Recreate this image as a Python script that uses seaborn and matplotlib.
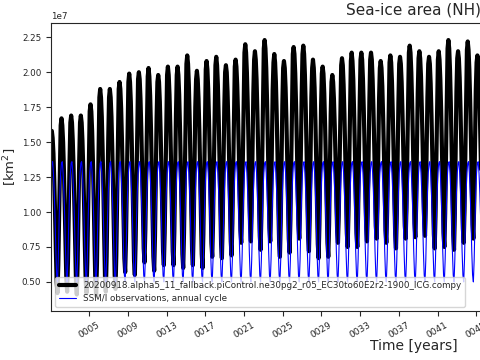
import numpy as np
import pandas as pd
import seaborn as sns
import matplotlib
matplotlib.use("Agg")
import matplotlib.pyplot as plt
from matplotlib.ticker import FuncFormatter

# sea-ice area, units of 1e7 km^2, monthly Jan..Dec, model years 0001-0045
years = list(range(1, 46))
model_area = [
    [1.53, 1.58, 1.53, 1.42, 1.23, 1.00, 0.73, 0.50, 0.42, 0.62, 0.94, 1.29],
    [1.62, 1.67, 1.62, 1.50, 1.30, 1.05, 0.77, 0.52, 0.43, 0.64, 0.99, 1.36],
    [1.64, 1.69, 1.64, 1.51, 1.31, 1.05, 0.76, 0.50, 0.41, 0.63, 0.99, 1.37],
    [1.64, 1.69, 1.64, 1.51, 1.31, 1.06, 0.76, 0.51, 0.42, 0.64, 0.99, 1.37],
    [1.72, 1.77, 1.72, 1.58, 1.36, 1.09, 0.77, 0.50, 0.40, 0.63, 1.02, 1.43],
    [1.82, 1.88, 1.82, 1.68, 1.45, 1.16, 0.82, 0.53, 0.43, 0.68, 1.08, 1.52],
    [1.82, 1.88, 1.82, 1.68, 1.45, 1.17, 0.84, 0.55, 0.45, 0.69, 1.09, 1.52],
    [1.88, 1.93, 1.88, 1.74, 1.52, 1.25, 0.94, 0.67, 0.57, 0.80, 1.18, 1.59],
    [1.93, 1.99, 1.93, 1.79, 1.56, 1.27, 0.94, 0.65, 0.55, 0.80, 1.20, 1.63],
    [1.95, 2.00, 1.95, 1.81, 1.59, 1.32, 1.01, 0.74, 0.64, 0.87, 1.25, 1.66],
    [1.97, 2.03, 1.97, 1.83, 1.60, 1.31, 0.97, 0.68, 0.58, 0.83, 1.23, 1.67],
    [1.93, 1.98, 1.93, 1.79, 1.57, 1.30, 0.99, 0.72, 0.62, 0.85, 1.23, 1.64],
    [1.98, 2.04, 1.98, 1.84, 1.61, 1.33, 1.00, 0.72, 0.62, 0.86, 1.26, 1.69],
    [1.98, 2.04, 1.98, 1.84, 1.61, 1.32, 0.99, 0.70, 0.60, 0.85, 1.25, 1.68],
    [2.06, 2.12, 2.06, 1.91, 1.67, 1.37, 1.03, 0.73, 0.62, 0.88, 1.30, 1.75],
    [1.95, 2.01, 1.95, 1.81, 1.59, 1.31, 0.98, 0.70, 0.60, 0.84, 1.24, 1.66],
    [2.02, 2.08, 2.02, 1.88, 1.66, 1.38, 1.06, 0.78, 0.68, 0.92, 1.31, 1.73],
    [2.05, 2.11, 2.05, 1.91, 1.68, 1.39, 1.06, 0.77, 0.67, 0.92, 1.32, 1.75],
    [2.00, 2.05, 2.00, 1.86, 1.64, 1.37, 1.06, 0.79, 0.69, 0.92, 1.30, 1.71],
    [2.04, 2.09, 2.04, 1.91, 1.70, 1.44, 1.13, 0.87, 0.78, 1.00, 1.37, 1.76],
    [2.14, 2.20, 2.14, 2.00, 1.78, 1.50, 1.17, 0.89, 0.79, 1.03, 1.43, 1.85],
    [2.09, 2.15, 2.09, 1.95, 1.72, 1.44, 1.11, 0.83, 0.73, 0.97, 1.37, 1.80],
    [2.17, 2.23, 2.17, 2.03, 1.80, 1.51, 1.18, 0.89, 0.79, 1.04, 1.44, 1.87],
    [2.07, 2.13, 2.07, 1.93, 1.70, 1.41, 1.07, 0.78, 0.68, 0.93, 1.33, 1.77],
    [2.03, 2.08, 2.03, 1.89, 1.67, 1.40, 1.08, 0.81, 0.71, 0.94, 1.33, 1.74],
    [2.13, 2.18, 2.13, 1.99, 1.77, 1.50, 1.18, 0.91, 0.81, 1.04, 1.43, 1.84],
    [2.13, 2.19, 2.13, 1.98, 1.75, 1.46, 1.12, 0.82, 0.72, 0.97, 1.38, 1.82],
    [2.03, 2.09, 2.03, 1.89, 1.66, 1.38, 1.05, 0.77, 0.67, 0.91, 1.31, 1.74],
    [1.99, 2.04, 1.99, 1.85, 1.63, 1.36, 1.05, 0.78, 0.68, 0.91, 1.29, 1.70],
    [1.93, 1.98, 1.93, 1.81, 1.62, 1.38, 1.10, 0.86, 0.78, 0.98, 1.32, 1.68],
    [2.05, 2.10, 2.05, 1.91, 1.70, 1.43, 1.12, 0.85, 0.75, 0.98, 1.36, 1.76],
    [2.08, 2.14, 2.08, 1.95, 1.72, 1.45, 1.13, 0.85, 0.75, 0.99, 1.38, 1.79],
    [2.09, 2.14, 2.09, 1.95, 1.74, 1.47, 1.16, 0.89, 0.79, 1.02, 1.40, 1.80],
    [2.09, 2.14, 2.09, 1.95, 1.74, 1.48, 1.17, 0.90, 0.81, 1.04, 1.41, 1.81],
    [2.03, 2.08, 2.03, 1.90, 1.69, 1.43, 1.13, 0.87, 0.78, 1.00, 1.37, 1.76],
    [2.07, 2.12, 2.07, 1.93, 1.71, 1.43, 1.11, 0.84, 0.74, 0.98, 1.36, 1.78],
    [2.06, 2.11, 2.06, 1.93, 1.72, 1.46, 1.16, 0.90, 0.81, 1.03, 1.40, 1.79],
    [2.14, 2.19, 2.14, 2.00, 1.78, 1.51, 1.19, 0.92, 0.82, 1.05, 1.44, 1.85],
    [2.10, 2.15, 2.10, 1.97, 1.75, 1.49, 1.19, 0.92, 0.83, 1.05, 1.42, 1.82],
    [2.06, 2.11, 2.06, 1.92, 1.70, 1.43, 1.11, 0.84, 0.74, 0.97, 1.36, 1.77],
    [2.09, 2.15, 2.09, 1.95, 1.73, 1.45, 1.13, 0.85, 0.75, 0.99, 1.38, 1.80],
    [2.17, 2.23, 2.17, 2.02, 1.78, 1.48, 1.14, 0.84, 0.73, 0.99, 1.41, 1.86],
    [2.10, 2.15, 2.10, 1.96, 1.74, 1.47, 1.15, 0.88, 0.78, 1.01, 1.40, 1.81],
    [2.16, 2.22, 2.16, 2.02, 1.80, 1.52, 1.19, 0.91, 0.81, 1.05, 1.45, 1.87],
    [2.07, 2.12, 2.07, 1.93, 1.72, 1.45, 1.14, 0.87, 0.78, 1.01, 1.38, 1.79],
]
# SSM/I climatological annual cycle, Jan..Dec, 1e7 km^2
obs_cycle = [1.28, 1.35, 1.36, 1.28, 1.14, 0.96, 0.72, 0.55, 0.50, 0.66, 0.93, 1.14]

model_name = "20200918.alpha5_11_fallback.piControl.ne30pg2_r05_EC30to60E2r2-1900_ICG.compy"
obs_name = "SSM/I observations, annual cycle"

rows = []
for i, yr in enumerate(years):
    for m in range(12):
        t = yr + (m + 0.5) / 12.0
        rows.append({"time": t, "model": model_area[i][m] * 1e7, "obs": obs_cycle[m] * 1e7})
df = pd.DataFrame(rows)

sns.set_style("ticks")
plt.rcParams["font.family"] = ["DejaVu Sans"]

fig = plt.figure(figsize=(4.8, 3.6), dpi=100)
ax = fig.add_axes([51 / 480, 49 / 360, 726 / 480, 288 / 360])

sns.lineplot(data=df, x="time", y="model", ax=ax, color="k", linewidth=3.0,
             label=model_name, estimator=None)
sns.lineplot(data=df, x="time", y="obs", ax=ax, color="b", linewidth=0.8,
             label=obs_name, estimator=None)

ax.set_xlim(1.04, 76.1)
ax.set_ylim(0.292e7, 2.352e7)
ax.set_xticks(np.arange(5, 77, 4))
ax.xaxis.set_major_formatter(FuncFormatter(lambda v, p: "%04d" % int(round(v))))
ax.tick_params(axis="x", labelsize=6.5, rotation=30)
ax.tick_params(axis="y", labelsize=6.3)
ax.yaxis.get_offset_text().set_fontsize(6.3)

ax.set_title("Sea-ice area (NH)", fontsize=11)
ax.set_xlabel("Time [years]", fontsize=10, labelpad=-1)
ax.set_ylabel("[km$^2$]", fontsize=9.5, labelpad=2)

ax.legend(loc="lower left", fontsize=6.3, frameon=True)

fig.savefig("out.png", dpi=100)
